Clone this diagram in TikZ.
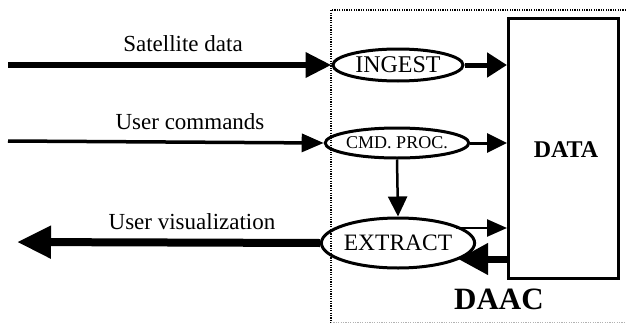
\documentclass[tikz,border=0pt]{standalone}
\usepackage{fontspec}
\setmainfont{Liberation Serif}
\usetikzlibrary{arrows.meta,shapes.geometric}
\begin{document}
\begin{tikzpicture}[x=1pt,y=-1pt,
  proc/.style={ellipse,draw,line width=3pt,inner sep=0pt},
  lbl/.style={font=\fontsize{23}{26}\selectfont,inner sep=0pt},
  conn/.style={line width=#1},
  bigtip/.style={-{Triangle[length=26pt,width=24pt]}},
  midtip/.style={-{Triangle[length=20pt,width=19pt]}},
  hugetip/.style={-{Triangle[length=34pt,width=31pt]}},
  border/.style={line width=2pt,dash pattern=on 1.2pt off 1.2pt}
]
\useasboundingbox (0,0) rectangle (626,324);
% DAAC boundary
\draw[border] (626,10) -- (331,10) -- (331,324);
\draw[border,line width=1pt,gray!60] (331,322) -- (626,322);
% processes
\node[proc,minimum width=130pt,minimum height=32pt,font=\fontsize{24}{26}\selectfont] (ingest) at (398,65) {INGEST};
\node[proc,minimum width=127pt,minimum height=30pt,font=\fontsize{18}{20}\selectfont] (cmd) at (397,143) {CMD. PROC.};
\node[proc,minimum width=130pt,minimum height=50pt,font=\fontsize{23.5}{26}\selectfont] (extract) at (398,243) {EXTRACT};
% data store
\node[draw,line width=3pt,minimum width=110pt,minimum height=260pt,anchor=north west,inner sep=0pt] (data) at (507,17) {};
\node[font=\fontsize{24}{26}\selectfont\bfseries,inner sep=0pt] (datalbl) at (566,150) {DATA};
\node[font=\fontsize{31}{34}\selectfont\bfseries,inner sep=0pt] (daac) at (499,299) {DAAC};
% external flows
\coordinate (satin) at (8,65);
\coordinate (cmdin) at (8,141);
\coordinate (visout) at (17,242);
\draw[conn=6.5pt,bigtip] (satin) -- (ingest.west);
\draw[conn=3.5pt,-{Triangle[length=22pt,width=18pt]}] (cmdin) -- (cmd.west);
\draw[conn=8pt,hugetip] (extract.west) -- (visout);
\node[lbl] (satl) at (183,44) {Satellite data};
\node[lbl] (cmdl) at (190,122) {User commands};
\node[lbl] (visl) at (192,222) {User visualization};
% internal flows
\draw[conn=5pt,-{Triangle[length=20pt,width=24pt]}] (ingest.east) -- (ingest.east -| data.west);
\draw[conn=3pt,midtip] (cmd.east) -- (cmd.east -| data.west);
\draw[conn=2.5pt,midtip] (cmd.south) -- (extract.north);
\coordinate (exo) at (456,228);
\coordinate (exi) at (458,259);
\draw[conn=2.5pt,-{Triangle[length=20pt,width=17pt]}] (exo) -- (exo -| data.west);
\draw[conn=7pt,-{Triangle[length=30pt,width=30pt]}] (exi -| data.west) -- (exi);
\end{tikzpicture}
\end{document}
